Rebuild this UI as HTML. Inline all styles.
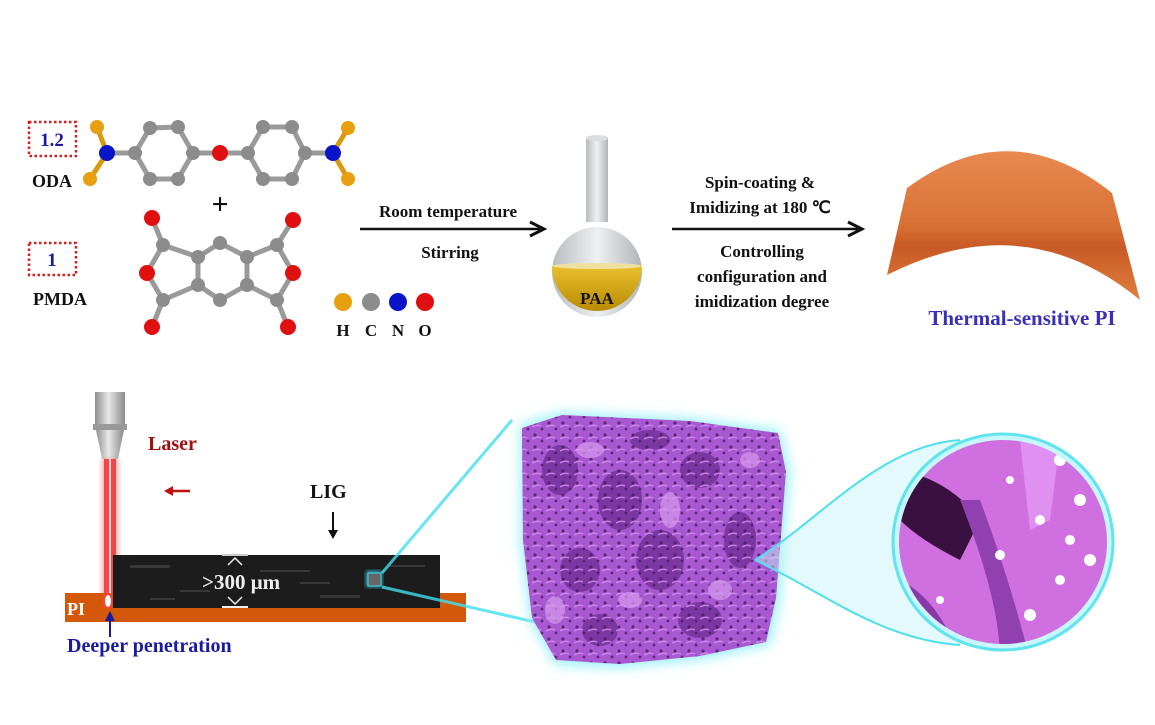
<!DOCTYPE html>
<html><head><meta charset="utf-8"><style>
html,body{margin:0;padding:0;background:#fff;}
svg{display:block;}
text{font-family:"Liberation Serif",serif;font-weight:bold;}
</style></head><body>
<svg width="1155" height="725" viewBox="0 0 1155 725" xmlns="http://www.w3.org/2000/svg">
<defs>
<linearGradient id="liq" x1="0" y1="0" x2="0" y2="1"><stop offset="0" stop-color="#e8c030"/><stop offset="1" stop-color="#b88a00"/></linearGradient>
<linearGradient id="glass" x1="0" y1="0" x2="1" y2="0"><stop offset="0" stop-color="#b8bcc0"/><stop offset=".5" stop-color="#eef0f2"/><stop offset="1" stop-color="#b0b4b8"/></linearGradient>
<linearGradient id="sheet" x1="0" y1="0" x2="0" y2="1"><stop offset="0" stop-color="#e88a50"/><stop offset=".5" stop-color="#d87035"/><stop offset=".65" stop-color="#c85a25"/><stop offset="1" stop-color="#e08040"/></linearGradient>
<linearGradient id="nozzle" x1="0" y1="0" x2="1" y2="0"><stop offset="0" stop-color="#909090"/><stop offset=".45" stop-color="#e8e8e8"/><stop offset="1" stop-color="#8a8a8a"/></linearGradient>
<filter id="glow" x="-30%" y="-30%" width="160%" height="160%"><feGaussianBlur stdDeviation="6"/></filter>
<filter id="blur2"><feGaussianBlur stdDeviation="2"/></filter>
<pattern id="dots" width="14" height="12" patternUnits="userSpaceOnUse">
<circle cx="3" cy="3" r="1.6" fill="#4a1a60"/><circle cx="10" cy="9" r="1.4" fill="#4a1a60"/><path d="M0,7 Q5,4 9,6" stroke="#d890f0" stroke-width="1.5" fill="none"/>
</pattern>
<clipPath id="circ"><ellipse cx="1003" cy="542" rx="104" ry="102"/></clipPath>
</defs>

<!-- ODA -->
<g stroke="#9a9a9a" stroke-width="5" fill="none">
<line x1="97" y1="127" x2="107" y2="153" stroke="#d89a10"/><line x1="90" y1="179" x2="107" y2="153" stroke="#d89a10"/>
<line x1="107" y1="153" x2="135" y2="153"/>
<polygon points="135,153 150,128 178,127 193,153 178,179 150,179"/>
<line x1="193" y1="153" x2="248" y2="153"/>
<polygon points="248,153 263,127 292,127 305,153 292,179 263,179"/>
<line x1="305" y1="153" x2="333" y2="153"/>
<line x1="333" y1="153" x2="348" y2="128" stroke="#d89a10"/><line x1="333" y1="153" x2="348" y2="179" stroke="#d89a10"/>
<polygon points="198,257 220,243 247,257 247,285 220,300 198,285"/>
<polyline points="198,257 163,245 147,273 163,300 198,285"/>
<polyline points="247,257 277,245 293,273 277,300 247,285"/>
<line x1="163" y1="245" x2="152" y2="218"/><line x1="163" y1="300" x2="152" y2="327"/>
<line x1="277" y1="245" x2="293" y2="220"/><line x1="277" y1="300" x2="288" y2="327"/>
</g>
<g>
<circle cx="97" cy="127" r="7" fill="#e8a010"/><circle cx="90" cy="179" r="7" fill="#e8a010"/>
<circle cx="107" cy="153" r="8" fill="#0a14c8"/>
<g fill="#8c8c8c"><circle cx="135" cy="153" r="7"/><circle cx="150" cy="128" r="7"/><circle cx="178" cy="127" r="7"/><circle cx="193" cy="153" r="7"/><circle cx="178" cy="179" r="7"/><circle cx="150" cy="179" r="7"/>
<circle cx="248" cy="153" r="7"/><circle cx="263" cy="127" r="7"/><circle cx="292" cy="127" r="7"/><circle cx="305" cy="153" r="7"/><circle cx="292" cy="179" r="7"/><circle cx="263" cy="179" r="7"/>
<circle cx="198" cy="257" r="7"/><circle cx="220" cy="243" r="7"/><circle cx="247" cy="257" r="7"/><circle cx="247" cy="285" r="7"/><circle cx="220" cy="300" r="7"/><circle cx="198" cy="285" r="7"/>
<circle cx="163" cy="245" r="7"/><circle cx="163" cy="300" r="7"/><circle cx="277" cy="245" r="7"/><circle cx="277" cy="300" r="7"/></g>
<circle cx="220" cy="153" r="8" fill="#e01010"/>
<circle cx="333" cy="153" r="8" fill="#0a14c8"/>
<circle cx="348" cy="128" r="7" fill="#e8a010"/><circle cx="348" cy="179" r="7" fill="#e8a010"/>
<g fill="#e01010"><circle cx="152" cy="218" r="8"/><circle cx="152" cy="327" r="8"/><circle cx="147" cy="273" r="8"/><circle cx="293" cy="220" r="8"/><circle cx="293" cy="273" r="8"/><circle cx="288" cy="327" r="8"/></g>
<circle cx="343" cy="302" r="9" fill="#e8a010"/><circle cx="371" cy="302" r="9" fill="#8c8c8c"/><circle cx="398" cy="302" r="9" fill="#0a14c8"/><circle cx="425" cy="302" r="9" fill="#e01010"/>
</g>
<g font-size="17" fill="#111" text-anchor="middle">
<text x="343" y="336">H</text><text x="371" y="336">C</text><text x="398" y="336">N</text><text x="425" y="336">O</text>
</g>
<rect x="29" y="122" width="47" height="34" fill="none" stroke="#d02020" stroke-width="2.5" stroke-dasharray="2.5,2.5"/>
<text x="52" y="146" font-size="19" fill="#1a1aa0" text-anchor="middle">1.2</text>
<text x="52" y="187" font-size="18" fill="#111" text-anchor="middle">ODA</text>
<rect x="29" y="243" width="47" height="32" fill="none" stroke="#d02020" stroke-width="2.5" stroke-dasharray="2.5,2.5"/>
<text x="52" y="266" font-size="19" fill="#1a1aa0" text-anchor="middle">1</text>
<text x="60" y="305" font-size="18" fill="#111" text-anchor="middle">PMDA</text>
<text x="220" y="214" font-size="30" fill="#111" text-anchor="middle">+</text>

<line x1="360" y1="229" x2="540" y2="229" stroke="#111" stroke-width="2.5"/>
<polyline points="530,222 544,229 530,236" fill="none" stroke="#111" stroke-width="3"/>
<text x="448" y="217" font-size="17" fill="#111" text-anchor="middle">Room temperature</text>
<text x="450" y="258" font-size="17" fill="#111" text-anchor="middle">Stirring</text>

<rect x="586" y="137" width="22" height="85" fill="url(#glass)"/>
<ellipse cx="597" cy="138" rx="11" ry="3" fill="#ddd"/>
<circle cx="597" cy="272" r="45" fill="url(#glass)"/>
<path d="M552,266 H642 A45,45 0 0 1 552,266 Z" fill="url(#liq)"/>
<ellipse cx="597" cy="266" rx="45" ry="3" fill="#f0e0a0"/>
<text x="597" y="304" font-size="17" fill="#111" text-anchor="middle">PAA</text>

<line x1="672" y1="229" x2="858" y2="229" stroke="#111" stroke-width="2.5"/>
<polyline points="848,222 862,229 848,236" fill="none" stroke="#111" stroke-width="3"/>
<g font-size="17" fill="#111" text-anchor="middle">
<text x="760" y="188">Spin-coating  &amp;</text>
<text x="760" y="213">Imidizing at 180 ℃</text>
<text x="762" y="257">Controlling</text>
<text x="762" y="282">configuration and</text>
<text x="762" y="307">imidization degree</text>
</g>

<path d="M907,188 Q1010,112 1112,193 L1140,300 Q1025,205 887,275 Z" fill="url(#sheet)"/>
<text x="1022" y="325" font-size="21" fill="#3a30b8" text-anchor="middle">Thermal-sensitive PI</text>

<rect x="95" y="392" width="30" height="33" fill="url(#nozzle)"/>
<rect x="93" y="424" width="34" height="6" fill="#999"/>
<polygon points="96,430 124,430 118,459 102,459" fill="url(#nozzle)"/>
<rect x="101" y="459" width="18" height="146" fill="#ff8080" opacity=".55" filter="url(#blur2)"/>
<rect x="104" y="459" width="12" height="146" fill="#f04848"/>
<rect x="109" y="459" width="2" height="146" fill="#ffd0d0"/>
<text x="148" y="450" font-size="20" fill="#a01010">Laser</text>
<line x1="170" y1="491" x2="190" y2="491" stroke="#c01010" stroke-width="2.5"/>
<polygon points="164,491 173,486 173,496" fill="#c01010"/>
<text x="310" y="498" font-size="20" fill="#111">LIG</text>
<line x1="333" y1="512" x2="333" y2="533" stroke="#111" stroke-width="2"/>
<polygon points="328,530 338,530 333,539" fill="#111"/>

<rect x="65" y="593" width="401" height="29" fill="#d4580a"/>
<rect x="113" y="555" width="327" height="53" fill="#1c1c1c"/>
<g fill="#444" opacity=".7">
<rect x="130" y="565" width="40" height="3"/><rect x="180" y="590" width="30" height="2"/><rect x="260" y="570" width="50" height="2"/><rect x="320" y="595" width="40" height="3"/><rect x="150" y="598" width="25" height="2"/><rect x="390" y="565" width="35" height="2"/><rect x="300" y="582" width="30" height="2"/>
</g>
<text x="67" y="615" font-size="18" fill="#fff">PI</text>
<ellipse cx="108" cy="601" rx="4" ry="7" fill="#fff" stroke="#ff4040" stroke-width="2"/>
<line x1="110" y1="618" x2="110" y2="637" stroke="#1a1aa0" stroke-width="2"/>
<polygon points="105,621 115,621 110,611" fill="#1a1aa0"/>
<text x="67" y="652" font-size="20" fill="#1a1aa0">Deeper penetration</text>
<line x1="222" y1="555" x2="248" y2="555" stroke="#ccc" stroke-width="2"/>
<line x1="222" y1="607" x2="248" y2="607" stroke="#eee" stroke-width="2"/>
<polyline points="228,565 235,558 242,565" fill="none" stroke="#eee" stroke-width="1.5"/>
<polyline points="228,597 235,604 242,597" fill="none" stroke="#eee" stroke-width="1.5"/>
<text x="202" y="589" font-size="21" fill="#eee">&gt;300 μm</text>

<line x1="382" y1="573" x2="512" y2="420" stroke="#40e0f0" stroke-width="3" opacity=".8"/>
<line x1="382" y1="587" x2="548" y2="625" stroke="#40e0f0" stroke-width="3" opacity=".8"/>
<rect x="366" y="571" width="16" height="16" fill="#40d8f0" filter="url(#blur2)" opacity=".8"/>
<rect x="368" y="573" width="13" height="13" fill="#666" stroke="#40d8f0"/>

<path d="M520,425 L560,412 L690,418 L780,430 L790,470 L780,600 L770,645 L700,660 L620,668 L555,665 L530,620 L520,540 Z" fill="#9ef0f8" filter="url(#glow)"/>
<path d="M522,428 L562,415 L690,421 L778,433 L786,472 L776,598 L766,642 L700,656 L620,664 L556,660 L532,618 L523,540 Z" fill="#a858d0"/>
<g fill="#6a2a90" opacity=".7">
<ellipse cx="560" cy="470" rx="18" ry="25"/><ellipse cx="620" cy="500" rx="22" ry="30"/><ellipse cx="700" cy="470" rx="20" ry="18"/><ellipse cx="740" cy="540" rx="16" ry="28"/>
<ellipse cx="580" cy="570" rx="20" ry="22"/><ellipse cx="660" cy="560" rx="24" ry="30"/><ellipse cx="600" cy="630" rx="18" ry="16"/><ellipse cx="700" cy="620" rx="22" ry="18"/><ellipse cx="650" cy="440" rx="20" ry="10"/>
</g>
<path d="M522,428 L562,415 L690,421 L778,433 L786,472 L776,598 L766,642 L700,656 L620,664 L556,660 L532,618 L523,540 Z" fill="url(#dots)" opacity=".8"/>
<g fill="#d89af0" opacity=".7">
<ellipse cx="590" cy="450" rx="14" ry="8"/><ellipse cx="670" cy="510" rx="10" ry="18"/><ellipse cx="720" cy="590" rx="12" ry="10"/><ellipse cx="555" cy="610" rx="10" ry="14"/><ellipse cx="630" cy="600" rx="12" ry="8"/><ellipse cx="750" cy="460" rx="10" ry="8"/>
</g>

<path d="M755,560 C820,520 880,445 960,440 L960,645 C880,640 820,590 755,560 Z" fill="#c8f4f8" opacity=".5"/>
<path d="M755,560 C820,520 880,445 960,440" fill="none" stroke="#50e0ec" stroke-width="2"/>
<path d="M755,560 C820,590 880,640 960,645" fill="none" stroke="#50e0ec" stroke-width="2"/>
<ellipse cx="1003" cy="542" rx="110" ry="108" fill="#c8f6fa" stroke="#60e4ee" stroke-width="3"/>
<g clip-path="url(#circ)">
<rect x="890" y="430" width="230" height="230" fill="#d070e0"/>
<path d="M900,470 Q950,480 980,520 L960,560 Q920,540 900,520 Z" fill="#3a1040"/>
<path d="M960,500 Q1000,600 1000,660 L1030,660 Q1010,580 980,500 Z" fill="#9040b0"/>
<path d="M1020,440 L1060,440 L1050,520 L1030,530 Z" fill="#e090f0"/>
<path d="M900,580 Q940,600 960,660 L900,660 Z" fill="#8a3aa8"/>
<g fill="#fff">
<circle cx="1060" cy="460" r="6"/><circle cx="1080" cy="500" r="6"/><circle cx="1040" cy="520" r="5"/><circle cx="1090" cy="560" r="6"/><circle cx="1060" cy="580" r="5"/><circle cx="1030" cy="615" r="6"/><circle cx="1080" cy="620" r="5"/><circle cx="1000" cy="555" r="5"/><circle cx="1050" cy="640" r="5"/><circle cx="1100" cy="600" r="4"/><circle cx="940" cy="600" r="4"/><circle cx="1010" cy="480" r="4"/><circle cx="1095" cy="475" r="5"/><circle cx="1070" cy="540" r="5"/>
</g>
</g>
</svg>
</body></html>
